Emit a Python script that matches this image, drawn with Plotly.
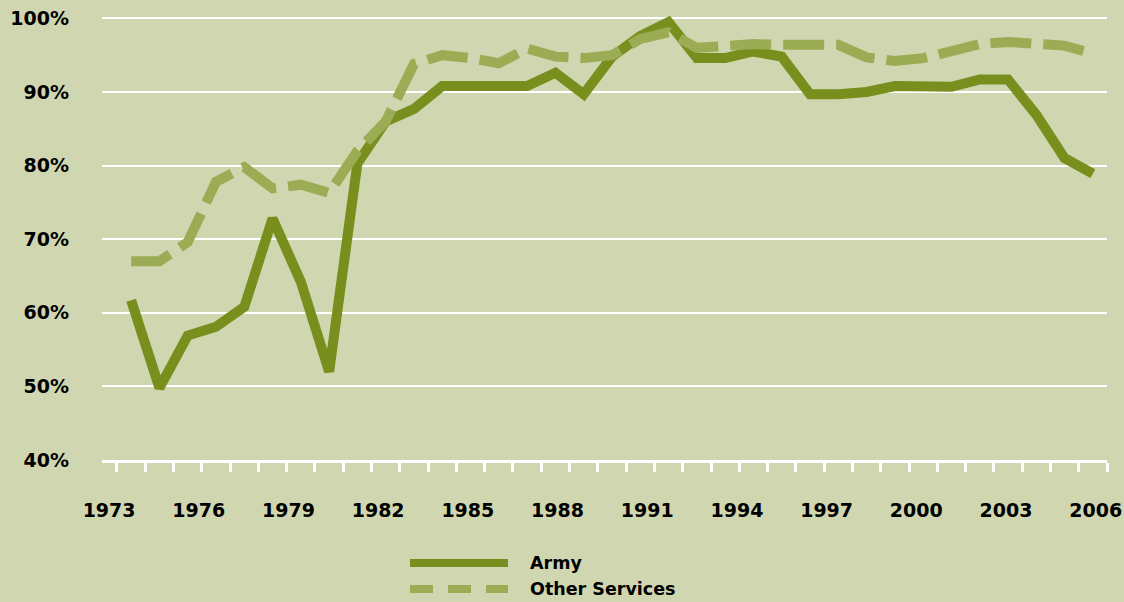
import numpy as np
import plotly.graph_objects as go

# Reporting periods (35 points on the category axis)
periods = ["1973", "1974", "1975", "1976", "1976TQ", "1977", "1978", "1979", "1980",
           "1981", "1982", "1983", "1984", "1985", "1986", "1987", "1988", "1989",
           "1990", "1991", "1992", "1993", "1994", "1995", "1996", "1997", "1998",
           "1999", "2000", "2001", "2002", "2003", "2004", "2005", "2006"]

army = [61.7, 49.8, 56.9, 58.1, 60.8, 72.8, 64.2, 52.0, 80.3, 86.0,
        87.7, 90.8, 90.8, 90.8, 90.8, 92.6, 89.7, 94.8, 97.6, 99.5,
        94.6, 94.6, 95.5, 94.8, 89.7, 89.7, 90.0, 90.8, 90.8, 90.7,
        91.7, 91.7, 86.9, 81.0, 78.9]

other_services = [67.0, 67.0, 69.6, 77.8, 79.8, 76.9, 77.4, 76.3, 82.0, 86.0,
                  93.8, 95.0, 94.6, 93.9, 95.9, 94.8, 94.6, 95.0, 97.2, 98.1,
                  96.0, 96.3, 96.5, 96.4, 96.4, 96.4, 94.7, 94.2, 94.6, 95.5,
                  96.5, 96.8, 96.5, 96.3, 95.2]

x_labels = ["1973", "1976", "1979", "1982", "1985", "1988", "1991", "1994",
            "1997", "2000", "2003", "2006"]
y_ticks = [40, 50, 60, 70, 80, 90, 100]

ARMY_COLOR = "#788f1e"
OTHER_COLOR = "#9bac55"
BG = "#d0d7b0"
FONT = "DejaVu Sans"

xi = list(range(len(periods)))

fig = go.Figure()
fig.add_trace(go.Scatter(
    x=xi, y=army, mode="lines", name="Army",
    line=dict(color=ARMY_COLOR, width=10),
    customdata=periods, hovertemplate="%{customdata}: %{y}%<extra>Army</extra>",
))
fig.add_trace(go.Scatter(
    x=xi, y=other_services, mode="lines", name="Other Services",
    line=dict(color=OTHER_COLOR, width=10, dash="41px,12px"),
    customdata=periods, hovertemplate="%{customdata}: %{y}%<extra>Other Services</extra>",
))

# label positions spread evenly along the axis
label_pos = list(np.linspace(-0.78, 34.1, len(x_labels)))

fig.update_layout(
    width=1124, height=602,
    margin=dict(l=102, r=17, t=11, b=142),
    paper_bgcolor=BG, plot_bgcolor=BG,
    showlegend=False,
    font=dict(family=FONT, color="black"),
    xaxis=dict(
        range=[-1.03, 34.5], automargin=False,
        tickmode="array", tickvals=label_pos, ticktext=x_labels,
        ticks="", showgrid=False, zeroline=False,
        showline=True, linecolor="white", linewidth=3,
        tickfont=dict(family=FONT, size=19, color="black", weight="bold"),
        ticklabelstandoff=31,
        minor=dict(tickmode="linear", tick0=-0.5, dtick=1, ticks="outside",
                   ticklen=9, tickwidth=3, tickcolor="white", showgrid=False),
    ),
    yaxis=dict(
        range=[40, 101], automargin=False,
        tickmode="array", tickvals=y_ticks,
        ticktext=[f"{v}%" for v in y_ticks],
        ticks="", showgrid=True, gridcolor="white", gridwidth=2,
        zeroline=False, showline=False,
        tickfont=dict(family=FONT, size=19, color="black", weight="bold"),
        ticklabelstandoff=32,
    ),
)

# legend drawn below the plot
def px_to_paper_x(px):
    return (px - 102) / 1005.0

def py_to_paper_y(py):
    return (460 - py) / 449.4

legend_items = [("Army", ARMY_COLOR, "solid", 563), ("Other Services", OTHER_COLOR, "23px,15px", 589)]
for name, color, dash, py in legend_items:
    fig.add_shape(type="line", xref="paper", yref="paper",
                  x0=px_to_paper_x(410), x1=px_to_paper_x(508),
                  y0=py_to_paper_y(py), y1=py_to_paper_y(py),
                  line=dict(color=color, width=8, dash=dash))
    fig.add_annotation(xref="paper", yref="paper", x=px_to_paper_x(528), y=py_to_paper_y(py),
                       text=f"<b>{name}</b>", showarrow=False, xanchor="left", yanchor="middle",
                       font=dict(family=FONT, size=17.5, color="black"))

fig.write_html(
    "out.html",
    config={"displayModeBar": False},
    post_script="document.body.style.margin='0';document.body.style.background='" + BG + "';",
)
